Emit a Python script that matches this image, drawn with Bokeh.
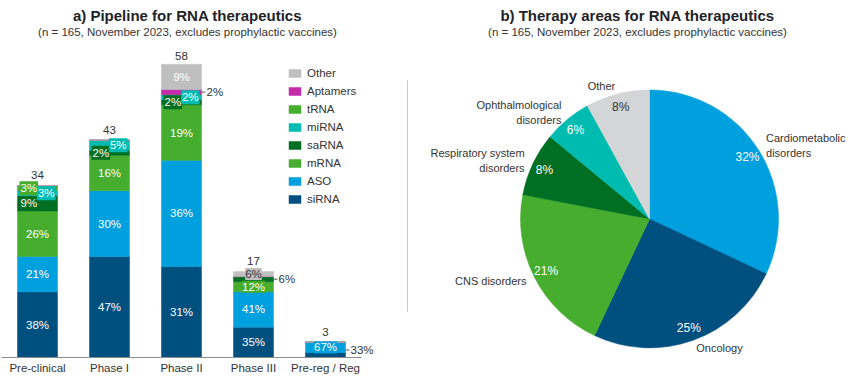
import math
from bokeh.plotting import figure
from bokeh.models import ColumnDataSource, Range1d, Legend, LegendItem, FixedTicker
from bokeh.layouts import row
from bokeh.embed import file_html
from bokeh.resources import INLINE
from bokeh.core.properties import value

# ---------------- data ----------------
stages = ["Pre-clinical", "Phase I", "Phase II", "Phase III", "Pre-reg / Reg"]
types = ["siRNA", "ASO", "mRNA", "saRNA", "miRNA", "tRNA", "Aptamers", "Other"]
siRNA = [13, 20, 18, 6, 1]
ASO = [7, 13, 21, 7, 2]
mRNA = [9, 7, 11, 2, 0]
saRNA = [3, 1, 1, 1, 0]
miRNA = [1, 2, 1, 0, 0]
tRNA = [1, 0, 0, 0, 0]
Aptamers = [0, 0, 1, 0, 0]
Other = [0, 0, 5, 1, 0]

areas = ["Cardiometabolic\ndisorders", "Oncology", "CNS disorders",
         "Respiratory system\ndisorders", "Ophthalmological\ndisorders", "Other"]
area_pct = [32, 25, 21, 8, 6, 8]

title_a = "a) Pipeline for RNA therapeutics"
title_b = "b) Therapy areas for RNA therapeutics"
subtitle = "(n = 165, November 2023, excludes prophylactic vaccines)"

# ---------------- style ----------------
FONT = value("Liberation Sans")
DARK = "#333333"
TITLE_C = "#1f2328"
type_colors = {"siRNA": "#00507f", "ASO": "#00a0df", "mRNA": "#46ad2f", "saRNA": "#006e23",
               "miRNA": "#00bcb0", "tRNA": "#46ad2f", "Aptamers": "#c42bab", "Other": "#bfbfbf"}
area_colors = ["#00a0df", "#00507f", "#46ad2f", "#006e23", "#00bcb0", "#d4d5d7"]

# label placement for small segments
label_mode = {
    ("Pre-clinical", "tRNA"): "left", ("Pre-clinical", "miRNA"): "right",
    ("Pre-clinical", "saRNA"): "left",
    ("Phase I", "saRNA"): "left", ("Phase I", "miRNA"): "right",
    ("Phase II", "saRNA"): "left", ("Phase II", "miRNA"): "right",
    ("Phase II", "Aptamers"): "out",
    ("Phase III", "saRNA"): "out",
    ("Pre-reg / Reg", "siRNA"): "out",
}
dark_text = {("Phase III", "Other")}
out_dy = {("Pre-reg / Reg", "siRNA"): -5}

W1, W2, H = 403, 447, 376
BOT = 18
FRAME_H = H - BOT
PXU = 72.0          # px per category
X0 = 37.0           # px from left edge to first category centre
BW = 40.0 / PXU     # bar width in category units

cols = dict(siRNA=siRNA, ASO=ASO, mRNA=mRNA, saRNA=saRNA, miRNA=miRNA,
            tRNA=tRNA, Aptamers=Aptamers, Other=Other)
totals = [sum(cols[t][i] for t in types) for i in range(len(stages))]
PX = (FRAME_H - 64.0) / max(totals)   # px per count
YMAX = FRAME_H / PX

# ---------------- left: stacked bars ----------------
p1 = figure(width=W1, height=H, x_range=Range1d(-X0 / PXU, (W1 - X0) / PXU),
            y_range=Range1d(0, YMAX), output_backend="svg", toolbar_location=None,
            y_axis_location=None, min_border_left=0, min_border_right=0,
            min_border_top=0, min_border_bottom=BOT)
p1.outline_line_color = None
p1.xgrid.visible = False
p1.ygrid.visible = False
p1.background_fill_color = None
p1.border_fill_color = "white"

xs = list(range(len(stages)))
src = ColumnDataSource(dict(x=xs, **cols))
clist = [type_colors[t] for t in types]
rends = p1.vbar_stack(types, x="x", width=BW, fill_color=clist, line_color=clist,
                      line_width=0.5, source=src)

ax = p1.xaxis[0]
ax.ticker = FixedTicker(ticks=xs)
ax.major_label_overrides = {i: s for i, s in enumerate(stages)}
ax.bounds = (-0.5, len(stages) - 0.5)
ax.axis_line_color = "#8c8c8c"
ax.major_tick_line_color = None
ax.minor_tick_line_color = None
ax.major_tick_out = 0
ax.major_tick_in = 0
ax.minor_tick_out = 0
ax.minor_tick_in = 0
ax.major_label_standoff = 4
ax.major_label_text_font = "Liberation Sans"
ax.major_label_text_font_size = "11.5px"
ax.major_label_text_color = DARK

groups = {m: dict(x=[], y=[], text=[], color=[], bg=[]) for m in ["in", "left", "right", "out"]}
lead = dict(x0=[], x1=[], y=[])
top_n = []
for i, st in enumerate(stages):
    base = 0
    tot = totals[i]
    last = 0
    for t in types:
        n = cols[t][i]
        if n == 0:
            continue
        last = n
        pct = round(100 * n / tot)
        mid = base + n / 2
        base += n
        mode = label_mode.get((st, t), "in")
        g = groups[mode]
        txt = f"{pct}%"
        if mode == "in":
            g["x"].append(i)
        elif mode == "left":
            g["x"].append(i - BW / 2)
        elif mode == "right":
            g["x"].append(i + BW / 2)
        else:
            g["x"].append(i + BW / 2)
            lead["x0"].append(i + BW / 2)
            lead["x1"].append(i + BW / 2 + 4 / PXU)
            mid = mid + out_dy.get((st, t), 0) / -PX
            lead["y"].append(mid)
        g["y"].append(mid)
        g["text"].append(txt)
        g["color"].append(DARK if (mode == "out" or (st, t) in dark_text) else "white")
        g["bg"].append(type_colors[t])
    top_n.append(last)

common = dict(text_font=FONT, text_font_size="11.5px", text_baseline="middle")
p1.text(x="x", y="y", text="text", text_color="color", text_align="center",
        background_fill_color="bg", padding=0,
        source=ColumnDataSource(groups["in"]), **common)
p1.text(x="x", y="y", text="text", text_color="color", text_align="left", x_offset=2,
        background_fill_color="bg", padding=1,
        source=ColumnDataSource(groups["left"]), **common)
p1.text(x="x", y="y", text="text", text_color="color", text_align="right", x_offset=-2,
        background_fill_color="bg", padding=1,
        source=ColumnDataSource(groups["right"]), **common)
p1.segment(x0="x0", x1="x1", y0="y", y1="y", line_color="#555555", line_width=1,
           source=ColumnDataSource(lead))
p1.text(x="x", y="y", text="text", text_color="color", text_align="left", x_offset=5,
        source=ColumnDataSource(groups["out"]), **common)

# totals (lifted a little more when the top segment's label box pokes above the bar)
tot_off = [-7 if n == 1 else (-6 if n == 2 else -4) for n in top_n]
p1.text(x=xs, y=totals, text=[str(v) for v in totals], text_align="center",
        text_baseline="bottom", y_offset=tot_off, text_color=DARK, text_font=FONT,
        text_font_size="11.5px")

# titles
tx = (187 - X0) / PXU
p1.text(x=[tx], y=[YMAX - 15 / PX], text=[title_a], text_align="center",
        text_baseline="middle", text_font=FONT, text_font_size="15px",
        text_font_style="bold", text_color=TITLE_C)
p1.text(x=[tx], y=[YMAX - 32 / PX], text=[subtitle], text_align="center",
        text_baseline="middle", text_font=FONT, text_font_size="11.5px", text_color=DARK)

legend = Legend(items=[LegendItem(label=t, renderers=[r]) for t, r in
                       reversed(list(zip(types, rends)))],
                location=(287, FRAME_H - 206), glyph_width=15, glyph_height=10,
                label_height=13, label_standoff=5, spacing=5, padding=0, margin=0,
                border_line_color=None, background_fill_alpha=0,
                label_text_font="Liberation Sans", label_text_font_size="11.5px",
                label_text_color=DARK)
p1.add_layout(legend)

# ---------------- right: pie ----------------
# data y = pixels from the page bottom; frame ends BOT px above the bottom
p2 = figure(width=W2, height=H, x_range=Range1d(0, W2), y_range=Range1d(BOT, H),
            output_backend="svg", toolbar_location=None, x_axis_location=None,
            y_axis_location=None, min_border_left=0, min_border_right=0,
            min_border_top=0, min_border_bottom=BOT)
p2.outline_line_color = None
p2.xgrid.visible = False
p2.ygrid.visible = False

CX, CY, R = 246.0, H - 219.0, 129.0
tot_area = sum(area_pct)
cum = 0
s_ang, e_ang, mids = [], [], []
for v in area_pct:
    a0 = math.pi / 2 - 2 * math.pi * cum / tot_area
    cum += v
    a1 = math.pi / 2 - 2 * math.pi * cum / tot_area
    s_ang.append(a0)
    e_ang.append(a1)
    mids.append((a0 + a1) / 2)

p2.wedge(x=CX, y=CY, radius=R, start_angle="s", end_angle="e", direction="clock",
         fill_color="c", line_color="c", line_width=0.5,
         source=ColumnDataSource(dict(s=s_ang, e=e_ang, c=area_colors)))

px_ = [CX + 0.9 * R * math.cos(a) for a in mids]
py_ = [CY + 0.9 * R * math.sin(a) for a in mids]
pc = ["white"] * (len(areas) - 1) + [DARK]
p2.text(x=px_, y=py_, text=[f"{v}%" for v in area_pct], text_color=pc,
        text_align="center", text_baseline="middle", text_font=FONT,
        text_font_size="12px")

lx, ly, la = [], [], []
for a in mids:
    lx.append(CX + 1.07 * R * math.cos(a))
    ly.append(CY + 1.07 * R * math.sin(a))
    la.append("left" if math.cos(a) > 0 else "right")
for al in ["left", "right"]:
    idx = [k for k in range(len(areas)) if la[k] == al]
    p2.text(x=[lx[k] for k in idx], y=[ly[k] for k in idx], text=[areas[k] for k in idx],
            text_align=al, text_baseline="middle", text_font=FONT,
            text_font_size="11px", text_color=DARK, text_line_height=1.25)

# separator
p2.line(x=[4, 4], y=[H - 80, H - 312], line_color="#c8c8c8", line_width=1)

p2.text(x=[234], y=[H - 15], text=[title_b], text_align="center", text_baseline="middle",
        text_font=FONT, text_font_size="15px", text_font_style="bold", text_color=TITLE_C)
p2.text(x=[234], y=[H - 32], text=[subtitle], text_align="center", text_baseline="middle",
        text_font=FONT, text_font_size="11.5px", text_color=DARK)

layout = row(p1, p2, spacing=0)
open("out.html", "w").write(file_html(layout, INLINE))
